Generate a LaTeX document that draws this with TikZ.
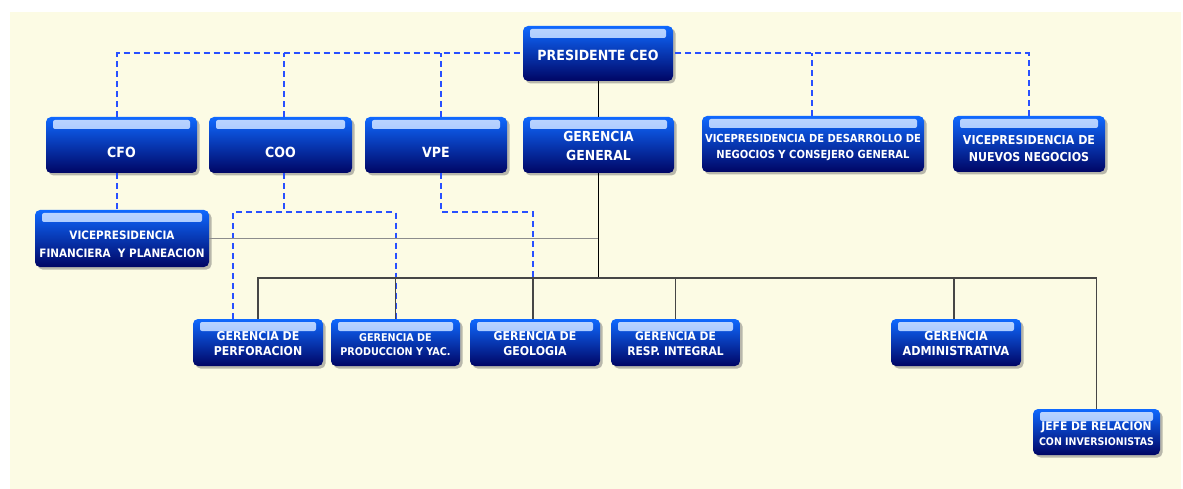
\documentclass[tikz,border=0pt]{standalone}
\usepackage{fontspec}
\setmainfont{DejaVu Sans Condensed}
\usetikzlibrary{shadows}
\definecolor{bg}{RGB}{252,251,228}
\definecolor{btop}{RGB}{15,105,255}
\definecolor{bmid}{RGB}{0,55,195}
\definecolor{bbot}{RGB}{0,5,100}
\definecolor{dashblue}{RGB}{40,80,255}
\definecolor{busgray}{RGB}{70,70,70}
\newcommand\fsz[2]{\fontsize{#1}{#2}\selectfont\bfseries}
\newcommand\txt[2]{\raisebox{#1}[\height][\depth]{\begin{tabular}{@{}c@{}}#2\end{tabular}}}
\tikzset{
  box/.style={rounded corners=5pt, top color=btop, middle color=bmid, bottom color=bbot,
    text=white, align=center, inner sep=0pt,
    drop shadow={shadow xshift=2.5pt, shadow yshift=-2.5pt, opacity=0.45, fill=black!60},
    path picture={\shade[top color=white!72!btop, bottom color=btop!55!white, rounded corners=2pt]
      ([xshift=7pt,yshift=-3pt]path picture bounding box.north west) rectangle
      ([xshift=-7pt,yshift=-12pt]path picture bounding box.north east);}},
  topbox/.style={box, minimum height=56pt},
  botbox/.style={box, minimum height=47pt},
  dashln/.style={draw=dashblue, line width=2pt, dash pattern=on 6pt off 4pt},
  solidln/.style={draw=black, line width=1.1pt},
  busln/.style={draw=busgray, line width=1.5pt},
  thinln/.style={draw=black!45, line width=0.8pt}
}
\begin{document}
\begin{tikzpicture}[x=1pt,y=-1pt]
\useasboundingbox[fill=white] (0,0) rectangle (1183,489);
\fill[bg] (10,12) rectangle (1181,489);

% nodes
\node[box, minimum width=150pt, minimum height=55pt] (ceo) at (598,53.5) {\fsz{14}{16}\txt{-4pt}{PRESIDENTE CEO}};
\node[topbox, minimum width=151pt] (cfo) at (121.5,145) {\fsz{14}{17}\txt{-9pt}{CFO}};
\node[topbox, minimum width=143pt] (coo) at (280.5,145) {\fsz{14}{17}\txt{-9pt}{COO}};
\node[topbox, minimum width=142pt] (vpe) at (436,145) {\fsz{14}{17}\txt{-9pt}{VPE}};
\node[topbox, minimum width=151pt] (gg) at (598.5,145) {\fsz{13.8}{19}\txt{-2.5pt}{GERENCIA\\GENERAL}};
\node[topbox, minimum width=222pt] (vpdn) at (813,144) {\fsz{11.1}{16}\txt{-3pt}{VICEPRESIDENCIA DE DESARROLLO DE\\NEGOCIOS Y CONSEJERO GENERAL}};
\node[topbox, minimum width=152pt] (vpnn) at (1029,144) {\fsz{12.3}{17}\txt{-6pt}{VICEPRESIDENCIA DE\\NUEVOS NEGOCIOS}};
\node[box, minimum width=174pt, minimum height=57pt] (vpfin) at (122,238.5) {\fsz{11.6}{17.5}\txt{-6.5pt}{VICEPRESIDENCIA\\FINANCIERA~ Y PLANEACION}};

\node[botbox, minimum width=130pt] (perf) at (258,342.5) {\fsz{12.2}{15}\txt{-2.5pt}{GERENCIA DE\\PERFORACION}};
\node[botbox, minimum width=129pt] (prod) at (395.5,342.5) {\fsz{10.7}{14}\txt{-3.5pt}{GERENCIA DE\\PRODUCCION Y YAC.}};
\node[botbox, minimum width=130pt] (geo) at (535,342.5) {\fsz{12.2}{15}\txt{-2.5pt}{GERENCIA DE\\GEOLOGIA}};
\node[botbox, minimum width=129pt] (resp) at (675.5,342.5) {\fsz{11.9}{15}\txt{-2.5pt}{GERENCIA DE\\RESP. INTEGRAL}};
\node[botbox, minimum width=130pt] (adm) at (956,342.5) {\fsz{12.4}{15}\txt{-2.5pt}{GERENCIA\\ADMINISTRATIVA}};
\node[box, minimum width=127pt, minimum height=46pt] (jefe) at (1096.5,432) {\fsz{11.9}{14.5}\txt{-3pt}{JEFE DE RELACION\\{\fsz{10.5}{14.5}CON INVERSIONISTAS}}};

\coordinate (busL) at (259,278);
\coordinate (cooj) at (284,212);
\coordinate (vpej) at (441,212);

% dashed lines
\draw[dashln] ([xshift=-4.5pt]cfo.north) |- (ceo.west);
\draw[dashln] ([xshift=3.5pt]coo.north) -- ([xshift=3.5pt]coo.north |- ceo.west);
\draw[dashln] ([xshift=5pt]vpe.north) -- ([xshift=5pt]vpe.north |- ceo.west);
\draw[dashln] (vpnn.north) |- (ceo.east);
\draw[dashln] ([xshift=-1pt]vpdn.north) -- ([xshift=-1pt]vpdn.north |- ceo.east);
\draw[dashln] ([xshift=-4.5pt]cfo.south) -- ([xshift=-5pt]vpfin.north);
\draw[dashln] ([xshift=3.5pt]coo.south) -- (cooj);
\draw[dashln] ([xshift=-25pt]perf.north) |- (cooj) -| (prod.north);
\draw[dashln] ([xshift=5pt]vpe.south) -- (vpej) -| ([xshift=-2pt]geo.north);

% solid lines
\draw[solidln] (ceo.south) -- (gg.south |- ceo.south) -- (gg.north);
\draw[thinln] (vpfin.east) -- (vpfin.east -| gg.south);
\draw[solidln] (gg.south) -- (gg.south |- busL);
\draw[busln] (perf.north) -- (perf.north |- busL) -| (jefe.north);
\draw[busln] (prod.north) -- (prod.north |- busL);
\draw[busln] ([xshift=-2pt]geo.north) -- ([xshift=-2pt]geo.north |- busL);
\draw[busln] (resp.north) -- (resp.north |- busL);
\draw[busln] ([xshift=-2pt]adm.north) -- ([xshift=-2pt]adm.north |- busL);
\end{tikzpicture}
\end{document}
